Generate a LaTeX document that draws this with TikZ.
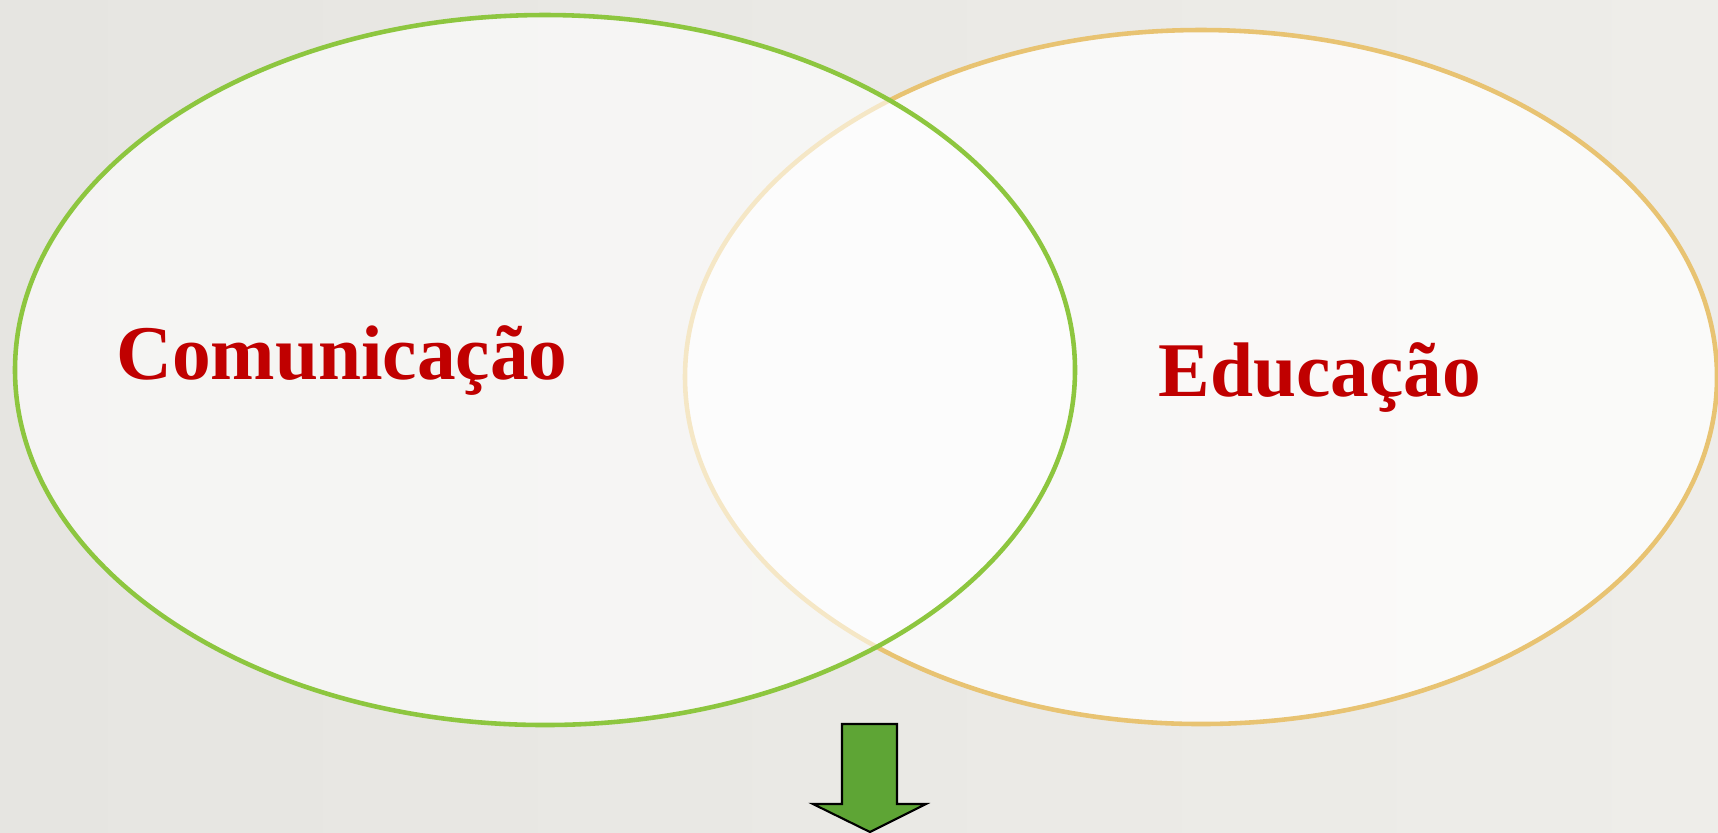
\documentclass[tikz,border=0pt]{standalone}
\usepackage{fontspec}
\setmainfont{Liberation Serif}
\usetikzlibrary{shapes.geometric}
\definecolor{bgleft}{HTML}{E6E5E1}
\definecolor{bgright}{HTML}{EEEDE9}
\definecolor{commgreen}{HTML}{8DC63F}
\definecolor{edutan}{HTML}{E8C372}
\definecolor{labelred}{HTML}{C00000}
\definecolor{arrowgreen}{HTML}{5EA535}
\begin{document}
\begin{tikzpicture}[
    x=0.01cm, y=-0.01cm,
    setbubble/.style={ellipse, line width=1.3pt, fill=white, inner sep=0pt},
    setlabel/.style={text=labelred, font=\fontsize{22}{26}\selectfont\bfseries, anchor=base, inner sep=0pt}
]
    % Background
    \shade[left color=bgleft, right color=bgright] (0,0) rectangle (1718,832);
    \useasboundingbox (0,0) rectangle (1718,832);
    % Sets
    \node[setbubble, draw=edutan, fill opacity=0.75, minimum width=1032*0.01cm, minimum height=694*0.01cm] (edu) at (1201,377) {};
    \node[setbubble, draw=commgreen, fill opacity=0.6, minimum width=1060*0.01cm, minimum height=710*0.01cm] (comm) at (545,370) {};
    % Labels
    \node[setlabel] (commlabel) at (342,379) {Comunicação};
    \node[setlabel] (edulabel) at (1320,396) {Educação};
    % Arrow
    \draw[fill=arrowgreen, line width=0.6pt, line join=miter]
        (842,724) -- (897,724) -- (897,804) -- (926,804) -- (870,832)
        -- (813,804) -- (842,804) -- cycle;
\end{tikzpicture}
\end{document}
